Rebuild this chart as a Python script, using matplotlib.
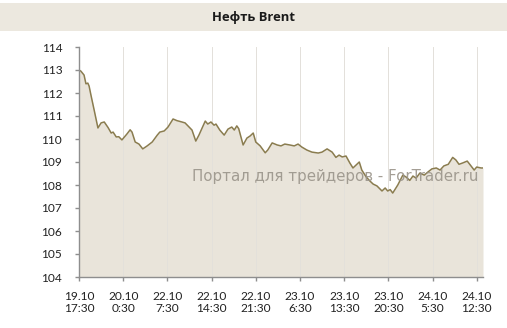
import matplotlib.pyplot as plt
from matplotlib.patches import Rectangle

# Hours since 19.10 17:30 (trading-time axis) and Brent price
hours = [0.0, 0.3, 0.8, 1.1, 1.4, 1.6, 1.9, 2.4, 3.0, 3.5, 4.0, 4.6, 5.1, 5.4, 5.9,
         6.3, 6.8, 7.6, 8.1, 8.4, 8.9, 9.5, 10.1, 10.8, 11.6, 12.4, 12.8, 13.5, 14.1,
         14.9, 15.5, 16.3, 16.8, 17.9, 18.5, 19.0, 20.0, 20.4, 20.9, 21.4, 21.7, 22.3,
         23.0, 23.6, 24.2, 24.6, 25.0, 25.3, 26.0, 26.6, 27.1, 27.6, 28.0, 28.7, 29.5,
         29.9, 30.6, 31.4, 32.0, 32.6, 33.4, 34.1, 34.7, 35.3, 36.1, 36.9, 37.9, 38.5,
         39.3, 40.1, 40.7, 41.2, 41.7, 42.3, 42.9, 43.4, 44.4, 44.8, 45.5, 46.1, 46.6,
         47.2, 48.0, 48.5, 48.9, 49.3, 49.7, 50.5, 51.3, 51.8, 52.4, 52.9, 53.4, 54.0,
         54.7, 55.3, 55.9, 56.6, 57.2, 57.8, 58.5, 59.2, 59.7, 60.2, 60.8, 61.5, 61.9,
         62.6, 63.0, 63.7, 64.0]
prices = [113.0, 112.95, 112.78, 112.4, 112.43, 112.3, 111.9, 111.26, 110.48, 110.7,
          110.74, 110.5, 110.26, 110.3, 110.09, 110.1, 109.96, 110.22, 110.4, 110.3,
          109.87, 109.78, 109.57, 109.7, 109.87, 110.17, 110.3, 110.35, 110.52, 110.87,
          110.8, 110.74, 110.7, 110.39, 109.91, 110.17, 110.78, 110.65, 110.74, 110.6,
          110.65, 110.39, 110.17, 110.43, 110.52, 110.39, 110.57, 110.45, 109.74, 110.04,
          110.13, 110.26, 109.87, 109.7, 109.4, 109.52, 109.83, 109.74, 109.7, 109.78,
          109.74, 109.7, 109.78, 109.65, 109.52, 109.43, 109.39, 109.43, 109.57, 109.43,
          109.2, 109.3, 109.22, 109.26, 108.96, 108.74, 109.0, 108.65, 108.35, 108.17,
          108.04, 107.96, 107.74, 107.87, 107.74, 107.8, 107.65, 108.0, 108.43, 108.35,
          108.2, 108.39, 108.3, 108.52, 108.43, 108.57, 108.7, 108.74, 108.65, 108.83,
          108.9, 109.2, 109.09, 108.9, 108.96, 109.04, 108.9, 108.65, 108.78, 108.74,
          108.74]

tick_hours = [0, 7, 14, 21, 28, 35, 42, 49, 56, 63]
tick_labels = ["19.10\n17:30", "20.10\n0:30", "22.10\n7:30", "22.10\n14:30",
               "22.10\n21:30", "23.10\n6:30", "23.10\n13:30", "23.10\n20:30",
               "24.10\n5:30", "24.10\n12:30"]
y_ticks = list(range(104, 115))

title = "Нефть Brent"
watermark = "Портал для трейдеров - ForTrader.ru"

line_color = "#8a7c4f"
fill_color = "#e9e4da"
axis_color = "#8e8e8e"

fig = plt.figure(figsize=(5.07, 3.28), dpi=100)
fig.patch.set_facecolor("white")

# Title band
fig.patches.append(Rectangle((0, 1 - 31 / 328), 1, 28 / 328, transform=fig.transFigure,
                             facecolor="#ece8df", edgecolor="none", zorder=0))
fig.text(0.5, 1 - 17 / 328, title, ha="center", va="center", fontsize=9.4,
         fontweight="bold", family="Open Sans", color="#1a1a1a")

ax = fig.add_axes([79 / 507, 1 - 277 / 328, 404 / 507, 230 / 328])
ax.fill_between(hours, prices, 104, color=fill_color, linewidth=0, zorder=1)
ax.plot(hours, prices, color=line_color, linewidth=1.1, zorder=3)

ax.set_xlim(0, 64)
ax.set_ylim(104, 114)
ax.set_xticks(tick_hours)
ax.set_xticklabels(tick_labels)
ax.set_yticks(y_ticks)

ax.grid(axis="x", color="#e3e0da", linewidth=0.7, zorder=2)
ax.set_axisbelow(False)

for side in ["top", "right"]:
    ax.spines[side].set_visible(False)
for side in ["left", "bottom"]:
    ax.spines[side].set_color(axis_color)
    ax.spines[side].set_linewidth(1.0)
    ax.spines[side].set_zorder(4)

ax.tick_params(axis="both", colors=axis_color, length=3, width=1.0, labelcolor="#222222",
               labelsize=8.6)
ax.tick_params(axis="y", pad=9)
ax.tick_params(axis="x", pad=7)
for lbl in ax.get_xticklabels() + ax.get_yticklabels():
    lbl.set_family("Lato")
    lbl.set_linespacing(1.1)

fig.text(192 / 507, 1 - 176 / 328, watermark, ha="left", va="center", fontsize=10.8,
         family="DejaVu Sans", color="#9a948a", alpha=0.9, zorder=10)

fig.savefig("out.png", dpi=100)
plt.close(fig)
